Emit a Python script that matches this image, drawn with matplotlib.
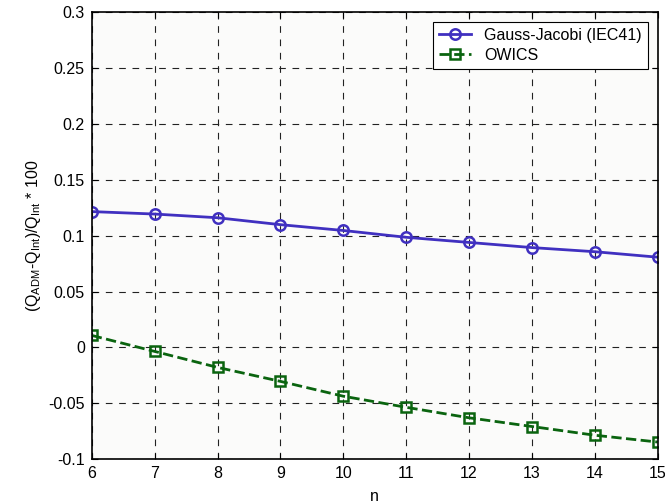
import numpy as np
import matplotlib
matplotlib.use("Agg")
from matplotlib import pyplot as plt

plt.rcParams['font.family'] = ['Liberation Sans', 'DejaVu Sans']
plt.rcParams['mathtext.fontset'] = 'custom'
plt.rcParams['mathtext.rm'] = 'Liberation Sans'
plt.rcParams['mathtext.it'] = 'Liberation Sans'

# dati
n = [6, 7, 8, 9, 10, 11, 12, 13, 14, 15]
gauss_jacobi = [0.1215, 0.1193, 0.116, 0.1098, 0.1046, 0.0985, 0.0939, 0.0893, 0.0856, 0.0807]
owics = [0.0107, -0.0036, -0.0179, -0.0304, -0.0437, -0.0536, -0.063, -0.0708, -0.0786, -0.0847]

f1 = plt.figure(figsize=(6.65, 5.04), dpi=100)
ax1 = f1.add_subplot(1, 1, 1)
ax1.set_facecolor('#fbfbfa')

ax1.plot(n, gauss_jacobi, 'o-', color='#4030c0', linewidth=2,
    markersize=7.5, markerfacecolor='none', markeredgewidth=1.8,
    label='Gauss-Jacobi (IEC41)')
ax1.plot(n, owics, 's--', color='#0a640f', linewidth=2,
    markersize=7.5, markerfacecolor='none', markeredgewidth=1.8,
    label='OWICS')

ax1.set_xlim((6, 15))
ax1.set_ylim((-0.1, 0.3))
ax1.set_xticks(n)
ax1.set_yticks([-0.1, -0.05, 0, 0.05, 0.1, 0.15, 0.2, 0.25, 0.3])
ax1.set_yticklabels(['-0.1', '-0.05', '0', '0.05', '0.1', '0.15', '0.2', '0.25', '0.3'])
ax1.tick_params(direction='in', top=True, right=True, labelsize=11.5, length=4, pad=5)

ax1.grid(True, linestyle=(0, (6, 6)), color='#222222', linewidth=0.8)
for s in ax1.spines.values():
    s.set_linewidth(1.2)

ax1.set_xlabel('n', fontsize=11.5, labelpad=6)
ax1.set_ylabel(r'$\mathrm{(Q_{ADM}}$-$\mathrm{Q_{Int})/Q_{Int}}$ * 100', fontsize=11.5, labelpad=4)

leg = ax1.legend(loc='upper right', fontsize=11.5, fancybox=False, framealpha=1,
    edgecolor='black', handlelength=2.0, handletextpad=0.8, borderaxespad=0.6,
    labelspacing=0.3)
leg.get_frame().set_linewidth(0.8)

f1.subplots_adjust(left=0.138, right=0.989, top=0.976, bottom=0.089)

plt.savefig('out.png', dpi=100)
